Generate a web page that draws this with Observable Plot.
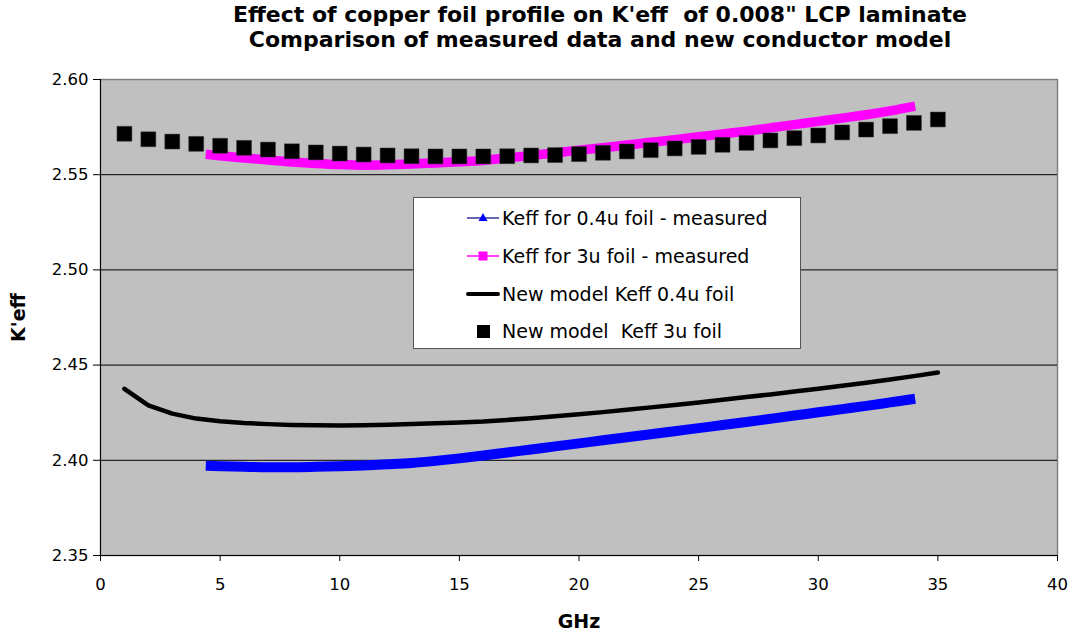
<!DOCTYPE html>
<html>
<head>
<meta charset="utf-8">
<script src="https://cdn.jsdelivr.net/npm/d3@7"></script>
<script src="https://cdn.jsdelivr.net/npm/@observablehq/plot@0.6"></script>
<style>
  body { margin: 0; background: #fff; font-family: "DejaVu Sans", sans-serif; overflow: hidden; }
  #wrap { position: relative; width: 1073px; height: 637px; }
  #title { position: relative; height: 60px; }
  #title div { position: absolute; left: 100px; width: 1000px; text-align: center; font-weight: bold; font-size: 22px; white-space: pre; line-height: 24px; }
  #legend { position: absolute; left: 413px; top: 197px; width: 388px; height: 152px; background: #fff; border: 1px solid #555; box-sizing: border-box; }
  .row { position: absolute; left: 0; height: 24px; line-height: 24px; font-size: 19px; white-space: pre; }
  .row svg { position: absolute; left: 52px; top: 2px; }
  .row span { position: absolute; left: 88px; }
  g[aria-label="x-axis label"] text, g[aria-label="y-axis label"] text { font-weight: bold; font-size: 19px; }
</style>
</head>
<body>
<div id="wrap">
  <div id="title"></div>
  <div id="chart"></div>
  <div id="legend"></div>
</div>
<script>
// ---- data ----
const titleLines = ["Effect of copper foil profile on K'eff  of 0.008\" LCP laminate", "Comparison of measured data and new conductor model"];
const xLabel = "GHz";
const yLabel = "K'eff";
const xTicks = [0, 5, 10, 15, 20, 25, 30, 35, 40];
const yTicks = [2.35, 2.40, 2.45, 2.50, 2.55, 2.60];
const gridLines = [2.40, 2.45, 2.50, 2.55];

// New model (computed at 1 GHz steps)
const modelFreq = [1,2,3,4,5,6,7,8,9,10,11,12,13,14,15,16,17,18,19,20,21,22,23,24,25,26,27,28,29,30,31,32,33,34,35];
const model3u = [2.5715,2.5686,2.5674,2.5662,2.5652,2.5641,2.5632,2.5623,2.5617,2.5611,2.5606,2.5601,2.5597,2.5596,2.5596,2.5596,2.5597,2.5601,2.5603,2.5608,2.5615,2.5622,2.5629,2.5638,2.5646,2.5657,2.5667,2.5680,2.5692,2.5706,2.5722,2.5737,2.5755,2.5772,2.5790];
const model04u = [2.4375,2.4288,2.4245,2.4219,2.4205,2.4196,2.4190,2.4186,2.4184,2.4183,2.4184,2.4187,2.4190,2.4194,2.4199,2.4204,2.4212,2.4221,2.4231,2.4242,2.4253,2.4265,2.4278,2.4291,2.4304,2.4318,2.4332,2.4346,2.4361,2.4376,2.4391,2.4407,2.4424,2.4442,2.4461];

// Measured
const measFreq = [4.4,5,6,7,8,9,10,11,12,13,14,15,16,17,18,19,20,21,22,23,24,25,26,27,28,29,30,31,32,33,34.05];
const meas3u = [2.5607,2.5600,2.5588,2.5577,2.5567,2.5559,2.5553,2.5550,2.5552,2.5556,2.5562,2.5568,2.5575,2.5588,2.5601,2.5615,2.5629,2.5642,2.5656,2.5670,2.5684,2.5699,2.5714,2.5729,2.5746,2.5763,2.5780,2.5797,2.5815,2.5835,2.5860];
const meas04u = [2.3971,2.3969,2.3966,2.3964,2.3964,2.3966,2.3969,2.3973,2.3979,2.3986,2.3997,2.4010,2.4025,2.4041,2.4057,2.4073,2.4089,2.4105,2.4121,2.4137,2.4153,2.4169,2.4185,2.4201,2.4218,2.4235,2.4252,2.4269,2.4286,2.4304,2.4323];

const seriesNames = ["Keff for 0.4u foil - measured", "Keff for 3u foil - measured", "New model Keff 0.4u foil", "New model  Keff 3u foil"];
const seriesColors = ["#0000ff", "#ff00ff", "#000000", "#000000"];

// ---- build ----
const modelRows = modelFreq.map((f, i) => ({f, k3: model3u[i], k04: model04u[i]}));
const measRows = measFreq.map((f, i) => ({f, k3: meas3u[i], k04: meas04u[i]}));

const title = document.getElementById("title");
titleLines.forEach((t, i) => {
  const d = document.createElement("div");
  d.style.top = (3 + i * 25) + "px";
  d.textContent = t;
  title.appendChild(d);
});

const chart = Plot.plot({
  width: 1073,
  height: 577,
  marginLeft: 100,
  marginRight: 16,
  marginTop: 19,
  marginBottom: 82,
  style: {fontFamily: "'DejaVu Sans', sans-serif", fontSize: "16.5px", color: "#000", background: "transparent", overflow: "visible"},
  x: {domain: [0, 40]},
  y: {domain: [2.35, 2.60]},
  marks: [
    Plot.frame({fill: "#c0c0c0", stroke: "#808080", strokeWidth: 1.5}),
    Plot.ruleY(gridLines, {stroke: "#000", strokeWidth: 1}),
    Plot.ruleX([0], {stroke: "#000", strokeWidth: 1}),
    Plot.ruleY([2.35], {stroke: "#000", strokeWidth: 1}),
    Plot.axisX({ticks: xTicks, tickSize: 6, tickPadding: 17, tickFormat: d3.format("d"), label: xLabel, labelAnchor: "center", labelArrow: "none", labelOffset: 72, stroke: "#000"}),
    Plot.axisY({ticks: yTicks, tickSize: 7, tickPadding: 5, tickFormat: d3.format(".2f"), label: yLabel, labelAnchor: "center", labelArrow: "none", labelOffset: 89, stroke: "#000"}),
    Plot.line(measRows, {x: "f", y: "k3", stroke: seriesColors[1], strokeWidth: 9.5, strokeLinecap: "butt", strokeLinejoin: "round", curve: "monotone-x"}),
    Plot.line(measRows, {x: "f", y: "k04", stroke: seriesColors[0], strokeWidth: 10, strokeLinecap: "butt", strokeLinejoin: "round", curve: "monotone-x"}),
    Plot.line(modelRows, {x: "f", y: "k04", stroke: seriesColors[2], strokeWidth: 4.5, strokeLinecap: "round", strokeLinejoin: "round"}),
    Plot.dot(modelRows, {x: "f", y: "k3", symbol: "square", r: 8.4, fill: seriesColors[3], stroke: "#333", strokeWidth: 0.5})
  ]
});
document.getElementById("chart").appendChild(chart);

// legend
const legend = document.getElementById("legend");
const rowTops = [8, 46, 84, 121];
const symbols = [
  '<svg width="34" height="20"><line x1="1" y1="10" x2="33" y2="10" stroke="#333399" stroke-width="1.5"/><path d="M17 5 L21.5 13 L12.5 13 Z" fill="#0000ff"/></svg>',
  '<svg width="34" height="20"><line x1="1" y1="10" x2="33" y2="10" stroke="#ff00ff" stroke-width="1.5"/><rect x="12.5" y="5.5" width="9" height="9" fill="#ff00ff"/></svg>',
  '<svg width="34" height="20"><line x1="2" y1="10" x2="32" y2="10" stroke="#000" stroke-width="4" stroke-linecap="round"/></svg>',
  '<svg width="34" height="20"><rect x="11" y="4" width="13" height="13" fill="#000"/></svg>'
];
seriesNames.forEach((name, i) => {
  const r = document.createElement("div");
  r.className = "row";
  r.style.top = rowTops[i] + "px";
  r.innerHTML = symbols[i] + "<span></span>";
  r.querySelector("span").textContent = name;
  legend.appendChild(r);
});
</script>
</body>
</html>
